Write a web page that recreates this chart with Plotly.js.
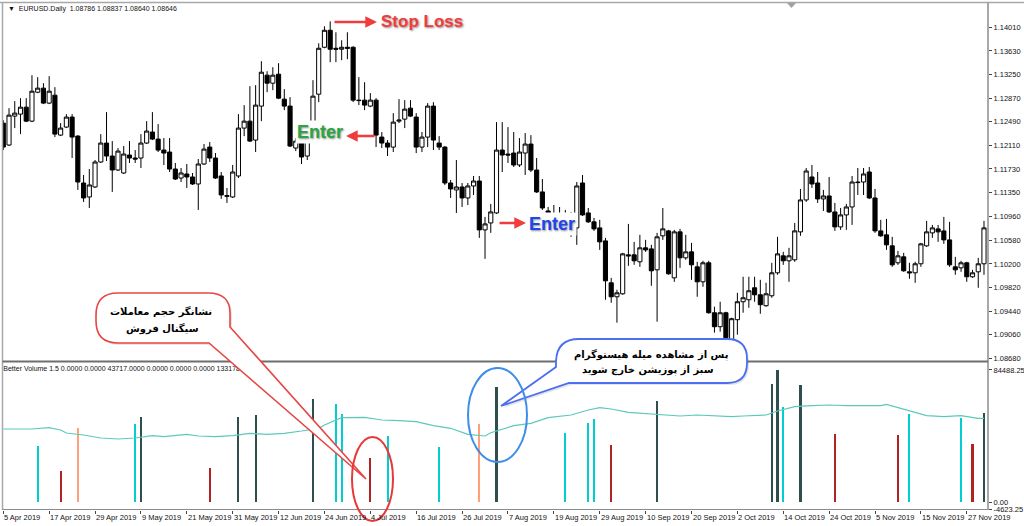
<!DOCTYPE html>
<html><head><meta charset="utf-8">
<script src="https://cdn.plot.ly/plotly-3.0.1.min.js"></script>
<style>html,body{margin:0;padding:0;background:#fff;overflow:hidden}#chart{width:1024px;height:526px}</style>
</head><body><div id="chart"></div>
<script>
// ---- data (EURUSD daily) ----
const opens = [
1.12467,1.12114,1.12580,1.12612,1.12724,1.12499,1.12965,1.13030,1.12789,1.12917,
1.12274,1.12403,1.12564,1.12258,1.11503,1.11278,1.11439,1.11841,1.12146,1.11937,
1.11712,1.11664,1.11953,1.11905,1.11905,1.12146,1.12323,1.12210,1.12033,1.12001,
1.11728,1.11583,1.11648,1.11600,1.11487,1.11809,1.12081,1.11905,1.11616,1.11300,
1.11278,1.11616,1.12387,1.12499,1.12194,1.12741,1.13239,1.13110,1.13255,1.12853,
1.12741,1.12066,1.12226,1.11937,1.12307,1.12933,1.13688,1.13962,1.13672,1.13657,
1.13688,1.13688,1.12837,1.12837,1.12741,1.12837,1.12242,1.12146,1.12081,1.12499,
1.12531,1.12708,1.12564,1.12081,1.12242,1.12741,1.12146,1.12081,1.11503,1.11391,
1.11439,1.11262,1.11455,1.11535,1.10748,1.10860,1.11021,1.12033,1.11969,1.11985,
1.11793,1.11985,1.12130,1.11712,1.11359,1.11053,1.10973,1.10957,1.10989,1.10941,
1.10780,1.11503,1.11021,1.10877,1.10780,1.10571,1.09896,1.09671,1.09719,1.10346,
1.10346,1.10234,1.10459,1.10442,1.10105,1.10652,1.10732,1.09976,1.10716,1.10298,
1.10394,1.10153,1.09912,1.10218,1.09414,1.09189,1.09414,1.08980,1.09302,1.09591,
1.09623,1.09816,1.09703,1.09527,1.09687,1.10057,1.10330,1.10250,1.10266,1.10716,
1.11230,1.11600,1.11503,1.11246,1.11294,1.11037,1.10796,1.10989,1.11117,1.11519,
1.11519,1.11680,1.11262,1.10732,1.10668,1.10491,1.10218,1.10314,1.10073,1.10057,
1.10202,1.10491,1.10700,1.10764,1.10732,1.10587,1.10153,1.10137,1.10218,1.09993,
1.10073,1.10202];
const highs = [
1.12515,1.12708,1.12821,1.12869,1.12869,1.13239,1.13207,1.13110,1.13223,1.13046,
1.12467,1.12612,1.12612,1.12274,1.11632,1.11728,1.11873,1.12290,1.12644,1.12178,
1.12066,1.12098,1.12178,1.12033,1.12290,1.12499,1.12644,1.12451,1.12226,1.12226,
1.11825,1.11744,1.11809,1.11664,1.11889,1.12130,1.12162,1.11985,1.11680,1.11423,
1.11793,1.12612,1.12757,1.13062,1.13078,1.13464,1.13303,1.13367,1.13432,1.13014,
1.12885,1.12226,1.12355,1.12274,1.13158,1.13753,1.14026,1.14106,1.13930,1.13801,
1.13930,1.13705,1.13207,1.13126,1.12950,1.12869,1.12323,1.12194,1.12628,1.12853,
1.12837,1.12837,1.12628,1.12323,1.12789,1.12805,1.12258,1.12098,1.11551,1.11873,
1.11503,1.11503,1.11616,1.11616,1.10957,1.11166,1.12483,1.12483,1.12403,1.12323,
1.12226,1.12307,1.12274,1.11905,1.11567,1.11117,1.11149,1.11117,1.11069,1.11037,
1.11519,1.11632,1.11101,1.10941,1.10909,1.10619,1.09976,1.09784,1.10378,1.10844,
1.10555,1.10668,1.10587,1.10507,1.10700,1.11101,1.10748,1.10748,1.10764,1.10668,
1.10539,1.10234,1.10250,1.10250,1.09511,1.09591,1.09430,1.09334,1.09735,1.09993,
1.09993,1.09993,1.09944,1.09896,1.10218,1.10636,1.10394,1.10459,1.10860,1.11407,
1.11744,1.11793,1.11680,1.11391,1.11600,1.11182,1.11101,1.11166,1.11616,1.11744,
1.11744,1.11760,1.11407,1.10909,1.10925,1.10636,1.10410,1.10378,1.10218,1.10234,
1.10539,1.10893,1.10828,1.10828,1.10957,1.10877,1.10314,1.10250,1.10234,1.10105,
1.10298,1.10893];
const lows = [
1.12033,1.12098,1.12387,1.12290,1.12483,1.12483,1.12949,1.12773,1.12773,1.12242,
1.12258,1.12387,1.11905,1.11391,1.11198,1.11101,1.11423,1.11825,1.11857,1.11359,
1.11696,1.11648,1.11825,1.11825,1.11744,1.12130,1.12194,1.12001,1.11793,1.11680,
1.11551,1.11519,1.11423,1.11471,1.11069,1.11793,1.11841,1.11567,1.11246,1.11182,
1.11262,1.11583,1.12258,1.12162,1.12001,1.12499,1.12965,1.12998,1.12853,1.12676,
1.12081,1.12017,1.11809,1.11873,1.12274,1.12805,1.13672,1.13448,1.13448,1.13480,
1.13496,1.12805,1.12757,1.12676,1.12724,1.12081,1.12066,1.11937,1.12001,1.12467,
1.12387,1.12564,1.11985,1.12001,1.12081,1.12033,1.12033,1.11471,1.11262,1.11021,
1.11117,1.11149,1.11310,1.10619,1.10282,1.10700,1.11005,1.11680,1.11825,1.11760,
1.11760,1.11632,1.11680,1.11342,1.11069,1.10668,1.10700,1.10668,1.10748,1.10636,
1.10507,1.10973,1.10860,1.10732,1.10426,1.09623,1.09575,1.09254,1.09703,1.10169,
1.10185,1.10153,1.10394,1.09848,1.09270,1.10587,1.10025,1.09912,1.10137,1.10266,
1.09944,1.09671,1.09832,1.09398,1.09093,1.09109,1.08932,1.08932,1.09061,1.09414,
1.09494,1.09591,1.09398,1.09511,1.09655,1.10025,1.10185,1.09912,1.10234,1.10652,
1.11198,1.11423,1.11182,1.11053,1.11021,1.10732,1.10748,1.10748,1.10828,1.11310,
1.11310,1.11246,1.10700,1.10636,1.10426,1.10153,1.10185,1.10073,1.09960,1.09896,
1.10153,1.10475,1.10619,1.10555,1.10523,1.10153,1.10025,1.10073,1.09912,1.09976,
1.09816,1.10025];
const closes = [
1.12081,1.12596,1.12628,1.12724,1.12499,1.12981,1.13030,1.12789,1.12981,1.12290,
1.12387,1.12564,1.12242,1.11519,1.11262,1.11471,1.11841,1.12146,1.11937,1.11712,
1.12017,1.11969,1.11905,1.11889,1.12146,1.12339,1.12210,1.12033,1.11985,1.11728,
1.11567,1.11664,1.11600,1.11487,1.11809,1.12049,1.11905,1.11583,1.11310,1.11290,
1.11680,1.12387,1.12499,1.12178,1.12757,1.13287,1.13110,1.13239,1.12869,1.12741,
1.12098,1.12178,1.11921,1.12194,1.12901,1.13672,1.13962,1.13657,1.13657,1.13688,
1.13672,1.12837,1.12830,1.12757,1.12837,1.12274,1.12146,1.12081,1.12483,1.12515,
1.12692,1.12580,1.12081,1.12242,1.12741,1.12194,1.12081,1.11503,1.11407,1.11439,
1.11262,1.11455,1.11535,1.10748,1.10844,1.11037,1.12033,1.11953,1.11953,1.11793,
1.12001,1.12130,1.11712,1.11359,1.11101,1.10957,1.10941,1.11005,1.10941,1.10893,
1.11455,1.10989,1.10877,1.10764,1.10555,1.09928,1.09671,1.09735,1.10362,1.10330,
1.10250,1.10459,1.10426,1.10089,1.10636,1.10764,1.10041,1.10716,1.10298,1.10394,
1.10185,1.09912,1.10218,1.09414,1.09189,1.09414,1.09012,1.09318,1.09591,1.09655,
1.09768,1.09703,1.09543,1.09719,1.10057,1.10362,1.10250,1.10330,1.10732,1.11230,
1.11696,1.11487,1.11246,1.11294,1.11037,1.10796,1.10989,1.11117,1.11519,1.11510,
1.11648,1.11262,1.10732,1.10652,1.10507,1.10185,1.10330,1.10089,1.10057,1.10202,
1.10523,1.10716,1.10780,1.10716,1.10587,1.10185,1.10105,1.10218,1.09993,1.10057,
1.10202,1.10780];

const dateTickIdx = [0,8,16,24,32,40,48,56,64,72,80,88,96,104,112,120,128,136,144,152,160,168];
const dateTickLabels = ['5 Apr 2019','17 Apr 2019','29 Apr 2019','9 May 2019','21 May 2019','31 May 2019',
 '12 Jun 2019','24 Jun 2019','4 Jul 2019','16 Jul 2019','26 Jul 2019','7 Aug 2019','19 Aug 2019',
 '29 Aug 2019','10 Sep 2019','20 Sep 2019','2 Oct 2019','14 Oct 2019','24 Oct 2019','5 Nov 2019',
 '15 Nov 2019','27 Nov 2019'];
const priceTicks = [1.14010,1.13630,1.13250,1.12870,1.12490,1.12110,1.11730,1.11350,1.10960,1.10580,1.10200,1.09820,1.09440,1.09060,1.08680];
const priceTickText = ['1.14010','1.13630','1.13250','1.12870','1.12490','1.12110','1.11730','1.11350','1.10960','1.10580','1.10200','1.09820','1.09440','1.09060','1.08680'];

// Better Volume histogram (only the coloured bars are visible)
const volIdx = [6,10,13,23,24,36,41,44,54,58,59,64,67,76,83,86,98,102,103,106,114,134,135,136,139,145,156,158,167,169,171];
const volVal = [35840,19840,47360,49920,54400,21760,54400,55680,65920,62720,56320,28160,42240,35200,49920,73600,
 44160,50560,53120,36480,64640,75520,84488,60800,74880,43520,42880,56320,53760,37120,56960];
const volKind = ['b1','b2','b3','b1','b4','b2','b4','b4','b4','b1','b1','b2','b1','b1','b3','b4',
 'b1','b1','b1','b2','b4','b4','b4','b1','b4','b2','b2','b1','b1','b2','b4'];
const volTicks = [-4623.25, 0, 84488.25];
const volTickText = ['-4623.25','0.00','84488.25'];
// average volume line
const maIdx = [0,5,8,10,11,14,17,20,23,26,28,32,34,37,40,43,46,49,52,55,56,59,63,66,69,72,75,78,81,84,85,89,92,95,99,102,104,106,109,112,115,118,121,124,127,129,133,135,138,141,144,147,150,153,154,157,159,161,164,167,170,171];
const maVal = [46720,46720,47550,46080,44160,42880,40960,40320,40960,42430,41790,43330,42240,41790,42430,43970,43330,43970,45440,47170,49280,53950,54210,52480,52030,51390,48830,47170,43330,42240,44350,48830,50370,53950,55680,58880,60350,59520,57410,56770,55680,55040,55680,55040,54590,55040,55680,58240,60990,61630,62080,61630,61440,61630,62530,59330,57410,55230,54590,55230,53570,53570];

// callout texts
const redNote = ['نشانگر حجم معاملات', 'سیگنال فروش'];
const blueNote = ['پس از مشاهده میله هیستوگرام', 'سبز از پوزیشن خارج شوید'];

// ---- layout helpers ----
const W = 1024, H = 526, ML = 3, MR = 36, MT = 3, MB = 16;
const PW = W - ML - MR, PH = H - MT - MB;
const fx = x => (x - ML) / PW;
const fy = y => 1 - (y - MT) / PH;
function path(segs) {
  return segs.map(s => {
    let out = s[0];
    for (let k = 1; k < s.length; k += 2) out += ' ' + fx(s[k]).toFixed(5) + ',' + fy(s[k + 1]).toFixed(5);
    return out;
  }).join(' ');
}
function shift(segs, dx, dy) {
  return segs.map(s => s.map((v, k) => k === 0 ? v : (k % 2 ? v + dx : v + dy)));
}
const kindColor = {b1: '#00CED1', b2: '#B22222', b3: '#FFA07A', b4: '#2F4F4F'};
const bars = opens.map((_, i) => i);
const FONT = 'Liberation Sans, Arial, sans-serif';

const traces = [
  {type: 'candlestick', x: bars, open: opens, high: highs, low: lows, close: closes,
   xaxis: 'x', yaxis: 'y', whiskerwidth: 0,
   increasing: {line: {color: '#000', width: 1}, fillcolor: '#ffffff'},
   decreasing: {line: {color: '#000', width: 1}, fillcolor: '#000000'},
   hoverinfo: 'skip', showlegend: false},
  {type: 'scatter', mode: 'lines', x: maIdx, y: maVal, xaxis: 'x', yaxis: 'y2',
   line: {color: '#5CC9B9', width: 1.2}, hoverinfo: 'skip', showlegend: false},
  {type: 'bar', x: volIdx, y: volVal, width: 0.36, xaxis: 'x', yaxis: 'y2',
   marker: {color: volKind.map(k => kindColor[k]), line: {width: 0}}, hoverinfo: 'skip', showlegend: false},
  {type: 'scatter', mode: 'text', x: [0], y: [85100], xaxis: 'x', yaxis: 'y2',
   text: ['Better Volume 1.5 0.0000 0.0000 43717.0000 0.0000 0.0000 0.0000 133178.0000'],
   textposition: 'middle right', textfont: {family: FONT, size: 7, color: '#111'},
   cliponaxis: false, hoverinfo: 'skip', showlegend: false}
];

const redBubble = [['M',118,293],['L',208,293],['Q',230,293,230,313],['L',230,327],['L',366,479],['L',209,343],
  ['L',118,343],['Q',96,343,96,321],['L',96,315],['Q',96,293,118,293],['Z']];
const blueBubble = [['M',579,339],['L',727,339],['Q',747,339,747,359],['L',747,363],['Q',747,383,727,383],
  ['L',569,383],['L',501,406],['L',556,367],['L',556,361],['Q',557,339,579,339],['Z']];

const shapes = [
  // frame
  {type:'line', xref:'paper', yref:'paper', x0:fx(0), x1:fx(1024), y0:fy(2.5), y1:fy(2.5), line:{color:'#A8A8A8', width:1.5}},
  {type:'line', xref:'paper', yref:'paper', x0:fx(2.5), x1:fx(2.5), y0:fy(2.5), y1:fy(510), line:{color:'#A8A8A8', width:1.5}},
  {type:'line', xref:'paper', yref:'paper', x0:fx(988), x1:fx(988), y0:fy(2.5), y1:fy(510), line:{color:'#8C8C8C', width:1.5}},
  {type:'line', xref:'paper', yref:'paper', x0:fx(2.5), x1:fx(988), y0:fy(361.5), y1:fy(361.5), line:{color:'#6E6E6E', width:2}},
  {type:'line', xref:'paper', yref:'paper', x0:fx(2.5), x1:fx(988), y0:fy(509.5), y1:fy(509.5), line:{color:'#8C8C8C', width:1}},
  {type:'path', xref:'paper', yref:'paper', path: path([['M',787,3],['L',796,3],['L',791.5,8],['Z']]), fillcolor:'#A0A0A0', line:{width:0}},
  // red callout
  {type:'path', xref:'paper', yref:'paper', path: path(shift(redBubble, 2, 2)), fillcolor:'rgba(0,0,0,0.10)', line:{width:0}, layer:'above'},
  {type:'path', xref:'paper', yref:'paper', path: path(redBubble), fillcolor:'#ffffff', line:{color:'#E84545', width:1.6}, layer:'above'},
  {type:'circle', xref:'paper', yref:'paper', x0:fx(352), x1:fx(393), y0:fy(521), y1:fy(437), line:{color:'#E83838', width:2}, layer:'above'},
  // blue callout
  {type:'path', xref:'paper', yref:'paper', path: path(shift(blueBubble, 2, 2)), fillcolor:'rgba(0,0,0,0.10)', line:{width:0}, layer:'above'},
  {type:'path', xref:'paper', yref:'paper', path: path(blueBubble), fillcolor:'#ffffff', line:{color:'#4C6EF0', width:1.8}, layer:'above'},
  {type:'circle', xref:'paper', yref:'paper', x0:fx(468), x1:fx(527), y0:fy(462), y1:fy(368), line:{color:'#3C8EE8', width:2}, layer:'above'}
];

const SH = '1px 1px 2px rgba(0,0,0,0.45)';
function note(o) { return Object.assign({xref:'paper', yref:'paper', xanchor:'center', yanchor:'middle', showarrow:false}, o); }
function arrow(hx, hy, ax) {
  return {xref:'paper', yref:'paper', x:fx(hx), y:fy(hy), ax:ax, ay:0, axref:'pixel', ayref:'pixel', text:'',
    showarrow:true, arrowhead:2, arrowsize:0.9, arrowwidth:2.6, arrowcolor:'#F03C3C', standoff:0, startstandoff:0};
}
const AR = {family:'DejaVu Sans', size:10, color:'#000'};
const annotations = [
  note({x:fx(6), y:fy(9), xanchor:'left', text:'▼  EURUSD.Daily  1.08786 1.08837 1.08640 1.08646',
   font:{family:FONT, size:7, color:'#111'}}),
  // labels
  note({x:fx(422), y:fy(22), text:'<b>Stop Loss</b>', font:{family:FONT, size:17, color:'#F03C3C', shadow:SH}}),
  note({x:fx(320), y:fy(132), text:'<b>Enter</b>', bgcolor:'#ffffff', borderpad:1,
   font:{family:FONT, size:18, color:'#2AA444', shadow:SH}}),
  note({x:fx(552), y:fy(224), text:'<b>Enter</b>', bgcolor:'#ffffff', borderpad:1,
   font:{family:FONT, size:18, color:'#1E46EE', shadow:SH}}),
  // arrows (after labels so they stay visible)
  arrow(377, 22, -44),
  arrow(346, 136, 30),
  arrow(526, 223, -28),
  note({x:fx(161), y:fy(311), text:'<b>' + redNote[0] + '</b>', font:AR}),
  note({x:fx(162), y:fy(328), text:'<b>' + redNote[1] + '</b>', font:AR}),
  note({x:fx(651), y:fy(354), text:'<b>' + blueNote[0] + '</b>', font:AR}),
  note({x:fx(648), y:fy(370), text:'<b>' + blueNote[1] + '</b>', font:AR})
];
dateTickIdx.forEach((v, k) => annotations.push({
  xref:'x', yref:'paper', x:v, y:fy(517), xanchor:'left', yanchor:'middle', showarrow:false,
  text: dateTickLabels[k], font:{family:FONT, size:7.5, color:'#111'}, borderpad:0
}));

const layout = {
  width: W, height: H, margin: {l: ML, r: MR, t: MT, b: MB, pad: 0},
  paper_bgcolor: '#ffffff', plot_bgcolor: '#ffffff', showlegend: false,
  boxgap: 0.1, boxgroupgap: 0.2, bargap: 0,
  xaxis: {domain: [0, 1], range: [-0.05, 171.7], anchor: 'y2', showgrid: false, zeroline: false,
    showline: false, tickmode: 'array', tickvals: dateTickIdx, ticktext: dateTickLabels, showticklabels: false,
    ticks: 'outside', ticklen: 3, tickcolor: '#444', tickwidth: 1, rangeslider: {visible: false}, fixedrange: true},
  yaxis: {domain: [fy(360), 1], range: [1.08653, 1.14401], side: 'right', anchor: 'x', showgrid: false,
    zeroline: false, showline: false, tickmode: 'array', tickvals: priceTicks, ticktext: priceTickText,
    ticks: 'outside', ticklen: 3, tickcolor: '#444', tickfont: {family: FONT, size: 7.5, color: '#111'}, fixedrange: true},
  yaxis2: {domain: [0, fy(363)], range: [-5120, 88960], side: 'right', anchor: 'x', showgrid: false,
    zeroline: false, showline: false, tickmode: 'array', tickvals: volTicks, ticktext: volTickText,
    ticks: 'outside', ticklen: 3, tickcolor: '#444', tickfont: {family: FONT, size: 7.5, color: '#111'}, fixedrange: true},
  shapes: shapes, annotations: annotations
};
Plotly.newPlot('chart', traces, layout, {staticPlot: true, displayModeBar: false});
</script></body></html>
